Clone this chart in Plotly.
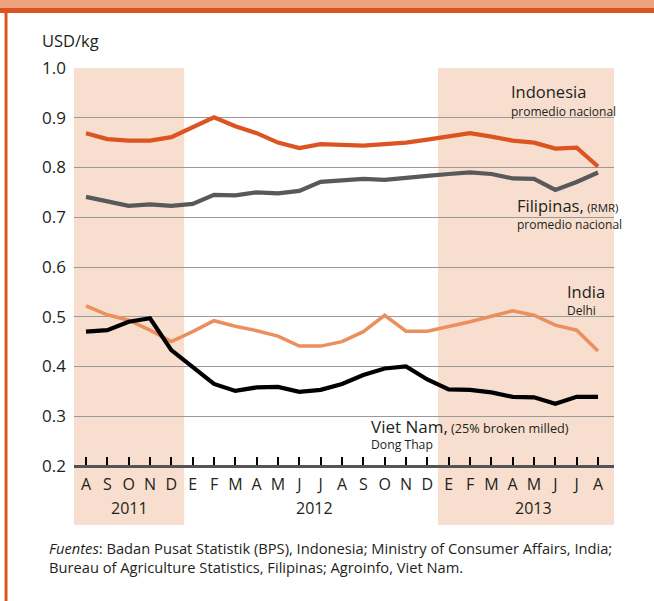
import plotly.graph_objects as go

# ---- data (USD/kg), Aug 2011 .. Aug 2013 ----
months = ["A", "S", "O", "N", "D", "E", "F", "M", "A", "M", "J", "J", "A",
          "S", "O", "N", "D", "E", "F", "M", "A", "M", "J", "J", "A"]
years = ["2011", "2012", "2013"]
year_pos = [2.06, 10.73, 20.96]

indonesia = [0.869, 0.857, 0.854, 0.854, 0.861, 0.882, 0.901, 0.883, 0.869, 0.850, 0.839, 0.847, 0.845,
             0.844, 0.847, 0.850, 0.856, 0.863, 0.869, 0.862, 0.854, 0.850, 0.838, 0.840, 0.802]
filipinas = [0.741, 0.731, 0.723, 0.726, 0.723, 0.727, 0.745, 0.744, 0.750, 0.748, 0.753, 0.771, 0.774,
             0.777, 0.775, 0.780, 0.783, 0.787, 0.790, 0.787, 0.778, 0.777, 0.755, 0.771, 0.790]
india = [0.522, 0.504, 0.493, 0.473, 0.450, 0.470, 0.492, 0.481, 0.472, 0.461, 0.441, 0.441, 0.450,
         0.470, 0.503, 0.471, 0.471, 0.480, 0.490, 0.501, 0.512, 0.503, 0.483, 0.473, 0.431]
vietnam = [0.470, 0.473, 0.490, 0.497, 0.433, 0.398, 0.365, 0.351, 0.358, 0.359, 0.349, 0.353, 0.365,
           0.383, 0.396, 0.400, 0.374, 0.354, 0.353, 0.348, 0.339, 0.338, 0.325, 0.339, 0.339]

x = list(range(len(months)))

FONT = "Open Sans"
TXT = "#231f20"
ORANGE = "#dc5420"
SHADE = "#f7dece"

YMIN = 0.0814
XMIN, XMAX = -0.5625, 24.75

fig = go.Figure()

def add_line(vals, color, width):
    fig.add_trace(go.Scatter(x=x, y=vals, mode="lines",
                             line=dict(color=color, width=width),
                             showlegend=False, hoverinfo="y"))

add_line(india, "#eb8f5f", 3.5)
add_line(vietnam, "#000000", 4.2)
add_line(filipinas, "#58595b", 4.2)
add_line(indonesia, ORANGE, 4.2)

shapes = [
    # shaded periods
    dict(type="rect", xref="x", yref="y", x0=XMIN, x1=4.6, y0=YMIN, y1=1.0,
         fillcolor=SHADE, line_width=0, layer="below"),
    dict(type="rect", xref="x", yref="y", x0=16.5, x1=XMAX, y0=YMIN, y1=1.0,
         fillcolor=SHADE, line_width=0, layer="below"),
    # frame: top band + left border
    dict(type="rect", xref="paper", yref="paper", x0=-0.14, x1=1.08, y0=1.1313, y1=1.16,
         fillcolor="#eda37e", line_width=0),
    dict(type="rect", xref="paper", yref="paper", x0=-0.14, x1=1.08, y0=1.1205, y1=1.1313,
         fillcolor=ORANGE, line_width=0),
    dict(type="line", xref="paper", yref="paper", x0=-0.1259, x1=-0.1259, y0=-0.17, y1=1.125,
         line=dict(color=ORANGE, width=3)),
]

ann = []

def label(xv, yv, text, base):
    ann.append(dict(x=xv, y=yv, xref="x", yref="y", text=text, align="left",
                    showarrow=False, xanchor="left", yanchor="middle",
                    font=dict(family=FONT, size=base, color=TXT)))

def span(t, size):
    return f"<span style='font-size:{size}px'>{t}</span>"

label(19.85, 0.935, span("Indonesia", 16.5) + "<br>" + span("promedio nacional", 12), 14.0)
label(20.12, 0.708, span("Filipinas,", 16.5) + " " + span("(RMR)", 11.5) + "<br>"
      + span("promedio nacional", 12), 13.4)
label(22.45, 0.535, span("India", 16.5) + "<br>" + span("Delhi", 12), 13.2)
label(13.25, 0.264, span("Viet Nam,", 17) + " " + span("(25% broken milled)", 12.7) + "<br>"
      + span("Dong Thap", 12.2), 12.3)

for yr, xp in zip(years, year_pos):
    ann.append(dict(x=xp, y=0.1156, xref="x", yref="y", text=yr, showarrow=False,
                    xanchor="center", yanchor="middle",
                    font=dict(family=FONT, size=16, color=TXT)))

ann.append(dict(x=-0.063, y=1.0597, xref="paper", yref="paper", text="USD/kg",
                showarrow=False, xanchor="left", yanchor="middle",
                font=dict(family=FONT, size=16.5, color=TXT)))
ann.append(dict(x=-0.05, y=-0.023, xref="paper", yref="paper",
                text="<i>Fuentes</i>: Badan Pusat Statistik (BPS), Indonesia; Ministry of Consumer Affairs, India;"
                     "<br>Bureau of Agriculture Statistics, Filipinas; Agroinfo, Viet Nam.",
                showarrow=False, xanchor="left", yanchor="top", align="left",
                font=dict(family=FONT, size=14.7, color=TXT)))

fig.update_layout(
    width=654, height=601,
    margin=dict(l=74, r=40, t=68, b=76),
    paper_bgcolor="white", plot_bgcolor="white",
    font=dict(family=FONT, size=16, color=TXT),
    shapes=shapes, annotations=ann,
    xaxis=dict(range=[XMIN, XMAX], tickvals=x, ticktext=months,
               anchor="free", position=(0.2 - YMIN) / (1.0 - YMIN),
               showline=True, linecolor="#555555", linewidth=2.5,
               ticks="inside", ticklen=8, tickwidth=1.5, tickcolor="#000000",
               ticklabelstandoff=3,
               showgrid=False, zeroline=False,
               tickfont=dict(family=FONT, size=16, color=TXT)),
    yaxis=dict(range=[YMIN, 1.0], tickvals=[0.2, 0.3, 0.4, 0.5, 0.6, 0.7, 0.8, 0.9, 1.0],
               tickformat=".1f", showgrid=True, gridcolor="#9a9a9a", gridwidth=1.3,
               zeroline=False, showline=False, ticks="", ticklabelstandoff=7,
               tickfont=dict(family=FONT, size=17, color=TXT)),
)

fig.write_html("out.html", config={"displayModeBar": False},
               post_script="document.body.style.margin='0';")
